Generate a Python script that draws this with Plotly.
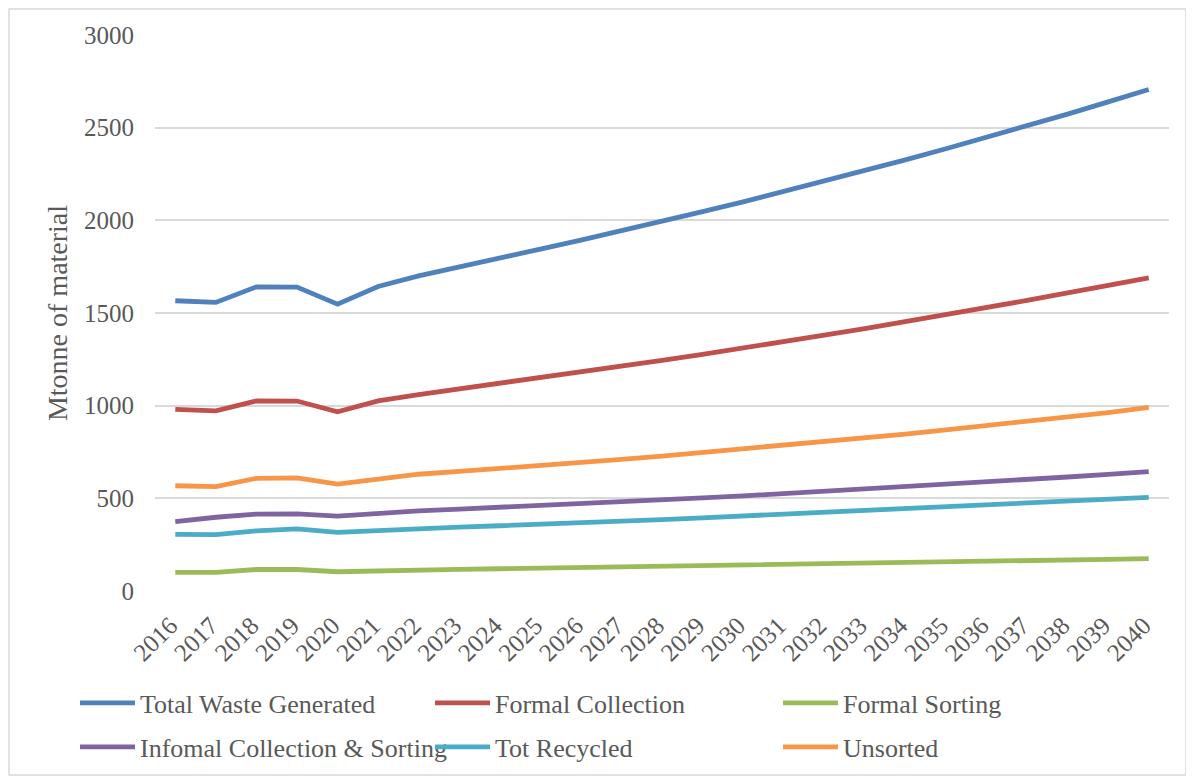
import plotly.graph_objects as go

years = [str(y) for y in range(2016, 2041)]

total_waste = [1566, 1557, 1641, 1640, 1548, 1643, 1700, 1750, 1797, 1845, 1893, 1943, 1995,
               2047, 2100, 2155, 2211, 2268, 2326, 2386, 2447, 2509, 2573, 2639, 2706]
formal_collection = [980, 972, 1026, 1025, 967, 1026, 1060, 1090, 1120, 1150, 1180, 1212, 1244,
                     1277, 1310, 1345, 1380, 1416, 1453, 1491, 1529, 1568, 1608, 1649, 1690]
formal_sorting = [101, 101, 116, 116, 104, 110, 114, 117, 120, 123, 126, 129, 132,
                  135, 139, 142, 146, 149, 153, 157, 160, 164, 167, 171, 175]
informal = [374, 398, 415, 416, 404, 420, 432, 442, 451, 460, 470, 480, 491,
            502, 513, 525, 537, 549, 562, 575, 588, 601, 615, 629, 644]
recycled = [306, 304, 325, 335, 316, 327, 338, 345, 352, 359, 366, 375, 385,
            395, 405, 415, 424, 433, 443, 453, 463, 473, 483, 494, 505]
unsorted = [568, 563, 608, 610, 577, 605, 630, 645, 660, 675, 692, 710, 728,
            747, 766, 786, 806, 826, 847, 869, 891, 914, 937, 963, 991]

series_names = ["Total Waste Generated", "Formal Collection", "Formal Sorting",
                "Infomal Collection & Sorting", "Tot Recycled", "Unsorted"]
series_values = [total_waste, formal_collection, formal_sorting, informal, recycled, unsorted]
series_colors = ["#4f81bd", "#c0504d", "#9bbb59", "#8064a2", "#4bacc6", "#f79646"]

FONT = "Liberation Serif"
GRAY = "#595959"

# page body has an 8px margin, so the figure is laid out in page coords minus 8
OFF = 8
W, H = 1194 - OFF, 778 - OFF
ML, MR, MT, MB = 155 - OFF, 25, 35 - OFF, 187
pw, ph = W - ML - MR, H - MT - MB

def px(x):
    return (x - OFF - ML) / pw

def py(y):
    return (H - MB - (y - OFF)) / ph

# legend slots in page pixels: (left of entry, centre of row)
legend_cols = [75, 430, 778]
legend_rows = [703, 747]

fig = go.Figure()
layout_legends = {}
for i, (name, vals, color) in enumerate(zip(series_names, series_values, series_colors)):
    key = "legend" if i == 0 else f"legend{i + 1}"
    fig.add_trace(go.Scatter(x=years, y=vals, name=name, mode="lines",
                             line=dict(color=color, width=4.8), legend=key))
    layout_legends[key] = dict(
        x=px(legend_cols[i % 3]), y=py(legend_rows[i // 3]),
        xanchor="left", yanchor="middle", orientation="h",
        font=dict(family=FONT, size=26, color=GRAY),
        itemwidth=55, bgcolor="rgba(0,0,0,0)", borderwidth=0)

fig.update_layout(
    width=W, height=H,
    margin=dict(l=ML, r=MR, t=MT, b=MB, autoexpand=False),
    paper_bgcolor="white", plot_bgcolor="white",
    font=dict(family=FONT, color=GRAY, size=24),
    showlegend=True,
    xaxis=dict(type="category", tickangle=-45, showgrid=False, showline=False,
               ticks="", tickfont=dict(family=FONT, size=25, color=GRAY),
               ticklabelstandoff=14, ticklabelshift=-5,
               range=[-0.5, len(years) - 0.5]),
    yaxis=dict(range=[0, 3000], dtick=500, showgrid=True, gridcolor="#d9d9d9",
               gridwidth=1.5, zeroline=False, showline=False, ticks="",
               ticklabelstandoff=20,
               tickfont=dict(family=FONT, size=25, color=GRAY),
               title=dict(text="Mtonne of material",
                          font=dict(family=FONT, size=28, color=GRAY), standoff=8)),
    shapes=[dict(type="rect", xref="paper", yref="paper",
                 x0=px(9), x1=px(1186), y0=py(775), y1=py(9),
                 line=dict(color="#d9d9d9", width=1.5), layer="below")],
    **layout_legends,
)

fig.write_html("out.html")
